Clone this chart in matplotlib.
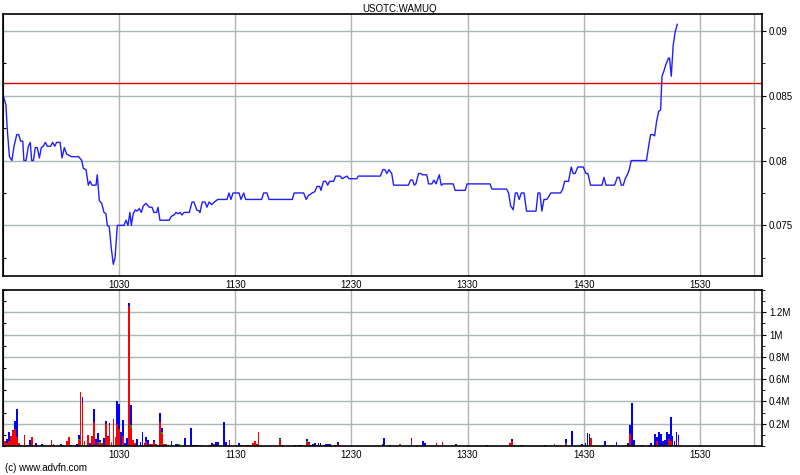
import matplotlib
matplotlib.use('Agg')
import matplotlib.pyplot as plt
from matplotlib.ticker import MultipleLocator, FuncFormatter

plt.rcParams['font.family'] = ['Liberation Sans', 'DejaVu Sans']

# 价格数据：开盘(09:30)后的分钟数, 价格
price_min = [0, 1.4, 2.1, 3.2, 4.5, 5.6, 7.0, 8.0, 9.0, 10.1,
             10.7, 11.8, 13.0, 14.0, 14.7, 15.6, 16.6, 17.6, 18.7, 19.7,
             20.7, 21.8, 22.8, 24.5, 25.6, 26.6, 27.6, 29.4, 30.4, 31.6,
             32.8, 34.0, 35.2, 39.0, 40.6, 41.4, 42.8, 44.0, 44.9, 45.9,
             48.0, 48.6, 49.7, 50.9, 52.1, 53.1, 53.8, 54.8, 55.9, 56.9,
             57.8, 59.0, 62.4, 63.5, 64.5, 65.5, 66.2, 67.2, 68.3, 69.3,
             70.3, 71.4, 72.4, 73.8, 75.5, 76.9, 77.9, 79.3, 80.0, 81.0,
             85.8, 86.9, 88.3, 89.3, 90.3, 91.4, 92.4, 93.4, 96.2, 97.6,
             98.6, 100.0, 101.3, 101.7, 102.9, 104.3, 105.3, 106.4, 107.8, 109.1,
             110.9, 115.7, 116.7, 117.7, 118.8, 121.9, 122.9, 124.3, 125.3, 133.6,
             134.6, 136.3, 137.4, 149.4, 150.4, 155.3, 156.6, 157.7, 159.7, 161.1,
             162.2, 163.6, 164.2, 165.6, 166.7, 167.7, 168.7, 170.8, 171.8, 174.2,
             175.2, 177.7, 178.7, 182.8, 183.5, 194.9, 196.3, 197.3, 198.3, 199.4,
             200.8, 201.8, 209.4, 210.6, 211.6, 212.5, 213.3, 214.7, 215.8, 216.8,
             218.9, 219.9, 221.6, 222.6, 223.7, 225.4, 226.4, 227.4, 232.6, 233.6,
             238.8, 239.8, 251.6, 252.6, 260.2, 261.2, 262.3, 263.6, 264.7, 265.7,
             266.7, 267.8, 269.2, 270.5, 275.4, 276.4, 277.4, 278.4, 279.5, 280.9,
             281.9, 283.0, 288.1, 289.2, 290.2, 292.2, 293.6, 294.6, 295.6, 297.0,
             299.8, 301.2, 302.2, 303.6, 309.5, 310.5, 311.6, 316.0, 317.4, 318.4,
             319.5, 320.5, 321.5, 322.6, 323.6, 324.6, 332.5, 333.6, 334.6, 335.7,
             336.7, 337.7, 338.8, 339.8, 340.5, 341.5, 342.5, 343.9, 344.4, 345.3,
             346.3, 347.3, 348.4]
price = [0.0850, 0.0843, 0.0824, 0.0803, 0.0800, 0.0811, 0.0820, 0.0820, 0.0815, 0.0815,
         0.0800, 0.0800, 0.0811, 0.0814, 0.0800, 0.0800, 0.0810, 0.0810, 0.0802, 0.0810,
         0.0811, 0.0814, 0.0811, 0.0811, 0.0814, 0.0811, 0.0814, 0.0814, 0.0802, 0.0810,
         0.0805, 0.0804, 0.0803, 0.0803, 0.0800, 0.0794, 0.0793, 0.0781, 0.0784, 0.0781,
         0.0781, 0.0789, 0.0769, 0.0767, 0.0760, 0.0759, 0.0750, 0.0749, 0.0732, 0.0720,
         0.0725, 0.0750, 0.0750, 0.0754, 0.0750, 0.0760, 0.0750, 0.0759, 0.0762, 0.0761,
         0.0763, 0.0760, 0.0765, 0.0767, 0.0764, 0.0764, 0.0760, 0.0760, 0.0764, 0.0754,
         0.0754, 0.0757, 0.0758, 0.0760, 0.0759, 0.0760, 0.0758, 0.0760, 0.0760, 0.0768,
         0.0768, 0.0762, 0.0761, 0.0760, 0.0768, 0.0768, 0.0764, 0.0768, 0.0766, 0.0768,
         0.0770, 0.0770, 0.0775, 0.0770, 0.0775, 0.0775, 0.0770, 0.0775, 0.0770, 0.0770,
         0.0775, 0.0775, 0.0770, 0.0770, 0.0775, 0.0775, 0.0770, 0.0773, 0.0775, 0.0776,
         0.0780, 0.0780, 0.0777, 0.0784, 0.0784, 0.0781, 0.0784, 0.0784, 0.0788, 0.0788,
         0.0786, 0.0788, 0.0786, 0.0786, 0.0788, 0.0788, 0.0793, 0.0793, 0.0790, 0.0793,
         0.0790, 0.0781, 0.0781, 0.0785, 0.0785, 0.0781, 0.0782, 0.0790, 0.0790, 0.0789,
         0.0789, 0.0782, 0.0782, 0.0785, 0.0782, 0.0789, 0.0781, 0.0782, 0.0782, 0.0777,
         0.0777, 0.0782, 0.0782, 0.0778, 0.0778, 0.0775, 0.0765, 0.0762, 0.0775, 0.0775,
         0.0770, 0.0775, 0.0775, 0.0761, 0.0761, 0.0775, 0.0775, 0.0761, 0.0770, 0.0770,
         0.0772, 0.0775, 0.0775, 0.0778, 0.0784, 0.0784, 0.0795, 0.0790, 0.0790, 0.0795,
         0.0795, 0.0790, 0.0790, 0.0781, 0.0781, 0.0787, 0.0781, 0.0781, 0.0787, 0.0787,
         0.0781, 0.0781, 0.0786, 0.0789, 0.0793, 0.0800, 0.0800, 0.0811, 0.0820, 0.0820,
         0.0819, 0.0830, 0.0838, 0.0839, 0.0865, 0.0869, 0.0874, 0.0879, 0.0879, 0.0865,
         0.0889, 0.0899, 0.0905]
prev_close = 0.086

# 成交量（千股）：分钟, 下跌量(红), 平盘量(绿), 上涨量(蓝)
vol_min = [0, 1, 2, 3, 4, 5, 6, 7, 8, 9, 11, 13, 14, 15, 17, 20, 25, 26, 30, 31,
           33, 34, 35, 38, 39, 40, 41, 42, 44, 45, 46, 47, 48, 49, 50, 51, 52, 53, 54, 55,
           56, 57, 58, 59, 60, 61, 62, 63, 64, 65, 66, 67, 68, 69, 71, 72, 73, 74, 75, 76,
           77, 78, 79, 81, 82, 83, 84, 87, 89, 90, 91, 94, 97, 98, 99, 100, 101, 102, 107, 108,
           109, 110, 111, 114, 115, 117, 122, 123, 126, 127, 129, 130, 131, 132, 143, 144, 151, 153, 154, 157,
           158, 159, 160, 161, 162, 163, 164, 166, 167, 168, 169, 172, 173, 196, 197, 200, 205, 211, 214, 217,
           218, 224, 227, 234, 250, 262, 263, 264, 268, 280, 285, 291, 294, 299, 301, 302, 303, 304, 311, 315,
           317, 323, 324, 325, 326, 330, 334, 335, 337, 338, 339, 340, 341, 342, 343, 344, 345, 346, 347, 348, 349]
vol_down = [200, 46, 30, 46, 92, 138, 154, 77, 31, 9, 86, 0, 0, 77, 0, 0, 55, 22, 0, 0,
            46, 77, 0, 0, 55, 483, 385, 46, 100, 0, 86, 215, 0, 37, 22, 31, 0, 200, 77, 185,
            31, 237, 77, 200, 154, 0, 92, 0, 0, 1260, 163, 55, 31, 0, 0, 0, 22, 46, 0, 15,
            22, 37, 15, 215, 108, 15, 22, 0, 0, 0, 0, 0, 5, 0, 0, 0, 9, 9, 0, 0,
            22, 0, 0, 0, 0, 46, 0, 0, 9, 9, 25, 46, 22, 129, 52, 9, 0, 0, 0, 37,
            25, 0, 0, 0, 0, 0, 0, 0, 0, 0, 0, 0, 22, 0, 0, 0, 18, 46, 9, 0,
            0, 28, 37, 0, 0, 31, 46, 12, 0, 0, 18, 22, 0, 0, 0, 0, 0, 71, 0, 12,
            0, 0, 111, 0, 0, 0, 0, 0, 0, 49, 0, 0, 0, 0, 0, 65, 49, 0, 0, 0, 49]
vol_flat = [0, 0, 0, 0, 0, 0, 0, 0, 0, 0, 0, 0, 0, 0, 0, 0, 0, 0, 0, 0,
            0, 0, 0, 0, 5, 0, 0, 0, 0, 0, 0, 5, 0, 0, 15, 0, 0, 0, 5, 6,
            9, 0, 0, 0, 0, 0, 0, 0, 0, 0, 22, 0, 0, 0, 0, 0, 0, 0, 0, 0,
            0, 0, 0, 0, 15, 0, 0, 0, 0, 0, 15, 0, 0, 0, 0, 0, 0, 0, 0, 0,
            0, 0, 0, 0, 0, 0, 0, 0, 0, 0, 0, 0, 0, 0, 9, 0, 0, 0, 0, 9,
            0, 0, 0, 0, 0, 0, 0, 0, 0, 0, 0, 0, 0, 0, 0, 0, 0, 0, 0, 0,
            0, 0, 0, 0, 0, 0, 0, 0, 0, 0, 0, 9, 0, 0, 0, 0, 0, 0, 0, 0,
            0, 0, 0, 0, 0, 0, 0, 0, 0, 0, 0, 0, 0, 0, 0, 0, 0, 0, 0, 0, 0]
vol_up = [68, 0, 32, 83, 0, 10, 68, 252, 0, 0, 14, 9, 52, 0, 28, 22, 0, 0, 18, 12,
          0, 0, 9, 22, 40, 0, 55, 0, 0, 31, 0, 112, 62, 77, 15, 0, 71, 21, 10, 18,
          0, 6, 6, 206, 224, 123, 138, 31, 71, 25, 185, 0, 0, 62, 40, 123, 9, 37, 55, 0,
          0, 18, 0, 83, 40, 0, 0, 46, 22, 15, 0, 68, 157, 9, 9, 9, 0, 0, 9, 28,
          0, 37, 37, 212, 34, 9, 28, 9, 0, 0, 0, 0, 0, 0, 12, 0, 9, 9, 9, 18,
          12, 9, 22, 28, 9, 28, 28, 9, 15, 18, 18, 9, 12, 22, 74, 9, 0, 28, 0, 46,
          31, 0, 0, 18, 9, 0, 18, 0, 9, 9, 0, 34, 138, 18, 31, 117, 105, 0, 49, 0,
          40, 31, 77, 382, 58, 12, 12, 25, 108, 31, 126, 108, 43, 55, 123, 43, 215, 86, 49, 123, 52]

hour_ticks = [60, 120, 180, 240, 300, 360]
hour_labels = ['1030', '1130', '1230', '1330', '1430', '1530']

fig = plt.figure(figsize=(8, 4.75), dpi=100)
ax1 = fig.add_axes([0.004, 0.419, 0.9485, 0.5516])
ax2 = fig.add_axes([0.004, 0.061, 0.9485, 0.3284])

for ax, step in ((ax1, 0.0025), (ax2, 100)):
    ax.set_xlim(0, 392.2)
    ax.set_xticks(hour_ticks)
    ax.set_xticklabels(hour_labels)
    ax.tick_params(axis='x', length=0, pad=3, labelsize=7)
    ax.yaxis.tick_right()
    ax.tick_params(axis='y', which='major', direction='out', length=3, labelsize=7, pad=2)
    ax.tick_params(axis='y', which='minor', direction='out', length=2)
    ax.grid(True, axis='x', color='#b4b4b4', lw=1)
    ax.grid(True, axis='y', which='major', color='#a9b6ba', lw=1)
    ax.axvline(388.3, color='#b4b4b4', lw=1)
    for s in ax.spines.values():
        s.set_linewidth(1.2)
    ax.set_axisbelow(True)
    # 左侧朝内的刻度
    sec = ax.secondary_yaxis('left')
    sec.yaxis.set_major_locator(MultipleLocator(step))
    sec.tick_params(axis='y', which='both', direction='in', length=2, labelleft=False)

# 价格图
ax1.plot(price_min, price, color='#1f1fff', lw=1.0)
ax1.axhline(prev_close, color='#e00000', lw=1.0)
ax1.set_ylim(0.0711, 0.0913)
ax1.yaxis.set_major_locator(MultipleLocator(0.005))
ax1.yaxis.set_minor_locator(MultipleLocator(0.0025))
ax1.yaxis.set_major_formatter(FuncFormatter(lambda v, p: '{:g}'.format(round(v, 4))))

# 成交量图（堆叠：下跌红、平盘绿、上涨蓝）
bot2 = [d + f for d, f in zip(vol_down, vol_flat)]
bar_kw = dict(width=0.9, edgecolor='none', linewidth=0, antialiased=False)
ax2.bar(vol_min, vol_down, color='#ff0000', **bar_kw)
ax2.bar(vol_min, vol_flat, bottom=vol_down, color='#00b000', **bar_kw)
ax2.bar(vol_min, vol_up, bottom=bot2, color='#0000ff', **bar_kw)
ax2.set_ylim(0, 1400)
ax2.set_yticks([200, 400, 600, 800, 1000, 1200])
ax2.yaxis.set_minor_locator(MultipleLocator(100))
ax2.yaxis.set_major_formatter(FuncFormatter(lambda v, p: '{:g}M'.format(v / 1000)))

fig.text(0.5, 1 - 9 / 475, 'USOTC:WAMUQ', ha='center', va='center', fontsize=7)
fig.text(5 / 800, 1 - 468 / 475, '(c) www.advfn.com', ha='left', va='center', fontsize=7)

plt.savefig('out.png', dpi=100)
